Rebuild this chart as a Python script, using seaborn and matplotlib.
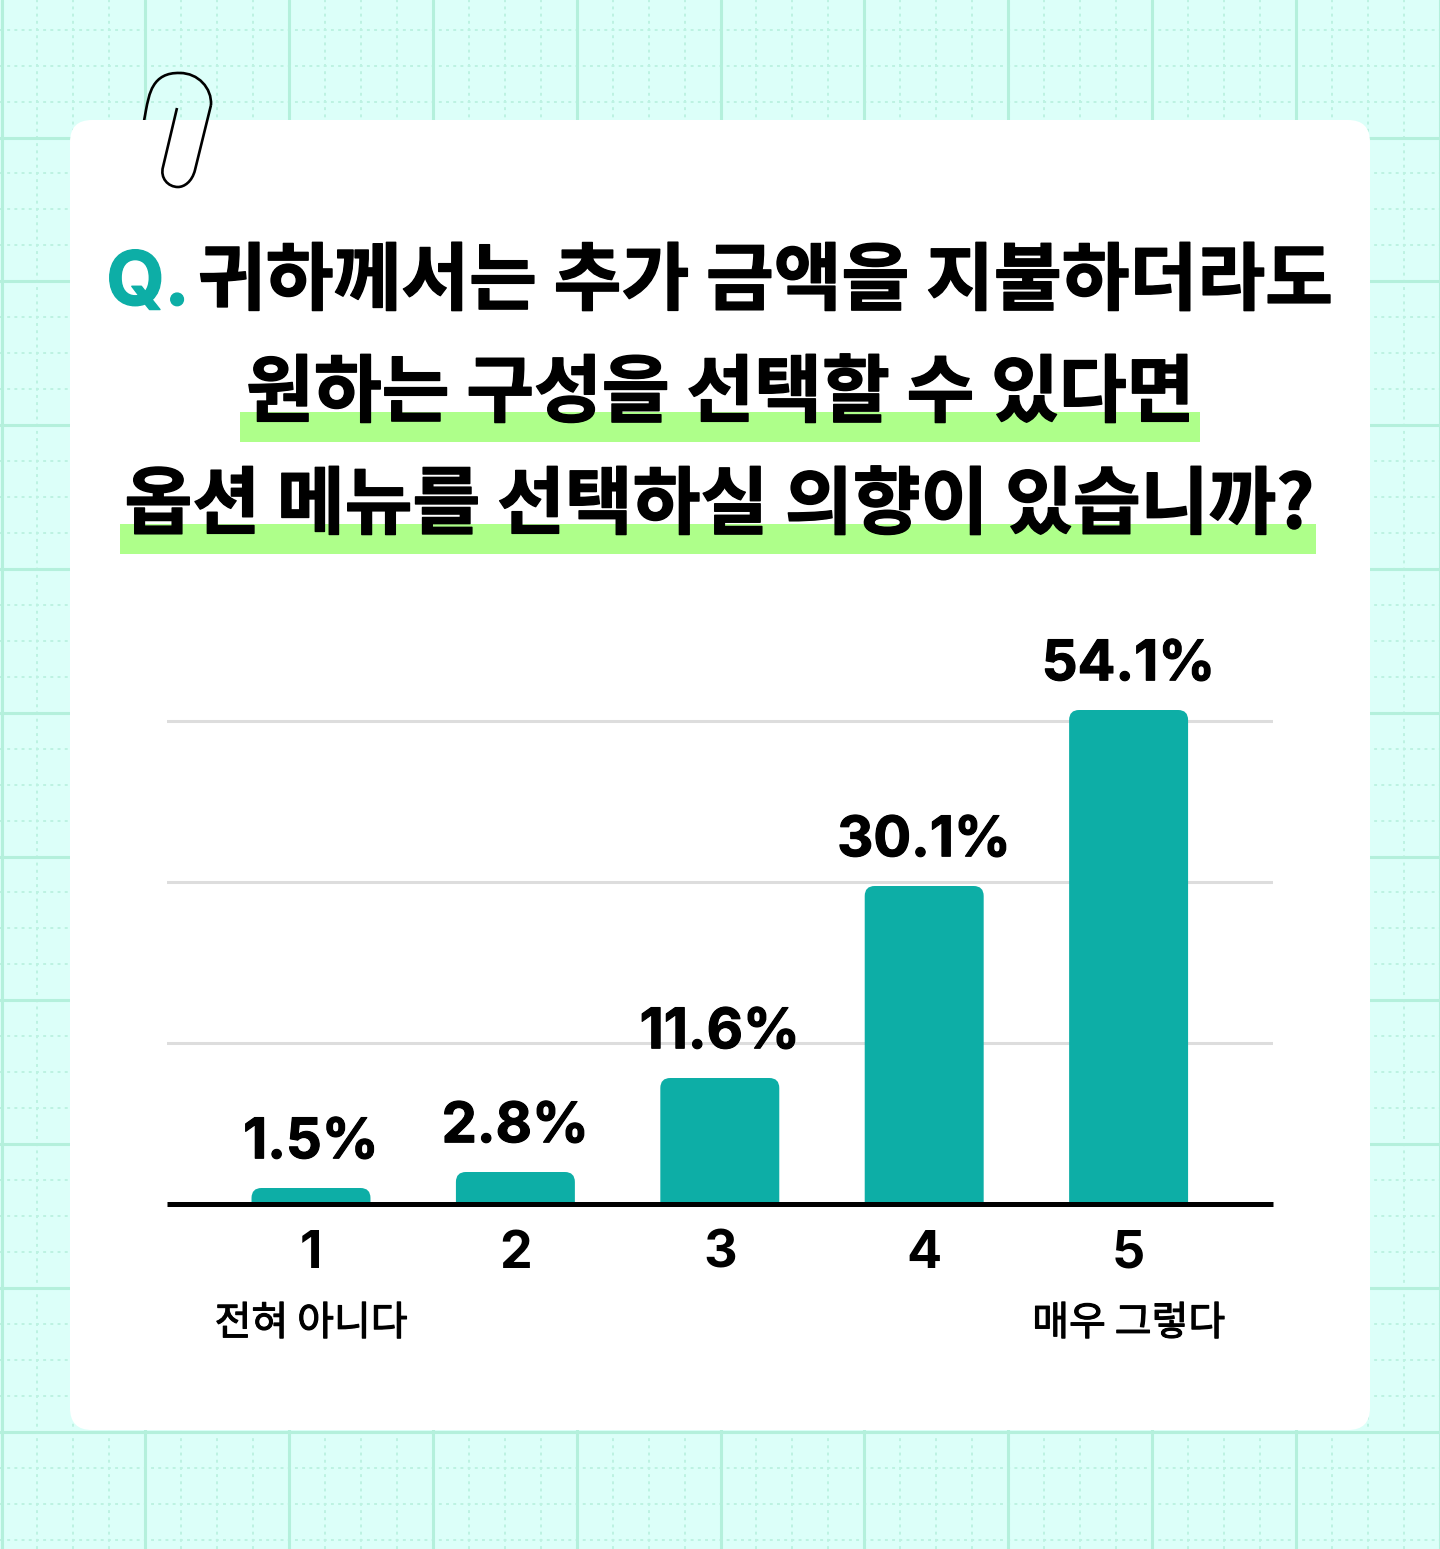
import numpy as np
import pandas as pd
import matplotlib
matplotlib.use("Agg")
import matplotlib.pyplot as plt
import seaborn as sns
import matplotlib.patheffects as pe
from matplotlib.patches import FancyBboxPatch, PathPatch, Rectangle
from matplotlib.path import Path

scale_points = ["1", "2", "3", "4", "5"]
share_labels = ["1.5%", "2.8%", "11.6%", "30.1%", "54.1%"]
drawn_heights = [16, 32, 126, 318, 494]
grid_levels = [161, 322, 483]
end_labels = {"1": "전혀 아니다", "5": "매우 그렇다"}
title_lines = ["귀하께서는 추가 금액을 지불하더라도", "원하는 구성을 선택할 수 있다면", "옵션 메뉴를 선택하실 의향이 있습니까?"]

W, H = 1440, 1549
sns.set_theme(style="white")
KR = ["Noto Sans CJK KR", "DejaVu Sans"]
NUM = ["Inter", "Noto Sans CJK KR"]
TEAL = "#0DAEA6"
px = 0.72  # points per pixel at dpi 100

fig = plt.figure(figsize=(W / 100, H / 100), dpi=100, facecolor="#DCFFF9")
bg = fig.add_axes([0, 0, 1, 1], zorder=0)
bg.set_xlim(0, W); bg.set_ylim(H, 0); bg.axis("off")

# graph paper
minor = 143.8 / 4
for i in range(0, 41):
    pos = 1.5 + i * minor
    if i % 4:
        bg.axvline(pos, color="#BDF2E2", lw=1.4, ls=(0, (1.5, 2.2)), zorder=1)
    else:
        bg.axvline(pos, color="#B4F0DC", lw=2.2, zorder=2)
for i in range(-3, 41):
    pos = 137.5 + i * minor
    if i % 4:
        bg.axhline(pos, color="#BDF2E2", lw=1.4, ls=(0, (1.5, 2.2)), zorder=1)
    else:
        bg.axhline(pos, color="#B4F0DC", lw=2.2, zorder=2)

# paper clip: back part, then card, then front part
clip_back = Path([(144, 121), (146, 110), (149, 95), (152, 72), (180, 73), (198, 73), (212, 88), (211, 105)],
                 [Path.MOVETO, Path.LINETO, Path.CURVE4, Path.CURVE4, Path.CURVE4, Path.CURVE4, Path.CURVE4, Path.CURVE4])
bg.add_patch(PathPatch(clip_back, fc="none", ec="black", lw=1.9, zorder=3, capstyle="butt"))
bg.add_patch(FancyBboxPatch((70 + 22, 120 + 22), 1300 - 44, 1310 - 44, boxstyle="round,pad=22,rounding_size=22",
                            fc="white", ec="none", zorder=4))
clip_front = Path([(211, 105), (195, 170), (192, 182), (184, 187), (178, 187), (168, 187), (160, 178), (163, 167), (177, 108)],
                  [Path.MOVETO, Path.LINETO, Path.CURVE4, Path.CURVE4, Path.CURVE4, Path.CURVE4, Path.CURVE4, Path.CURVE4, Path.LINETO])
bg.add_patch(PathPatch(clip_front, fc="none", ec="black", lw=1.9, zorder=5, capstyle="butt"))

# title
bg.add_patch(Rectangle((240, 412), 960, 30, fc="#AEFF8A", ec="none", zorder=5))
bg.add_patch(Rectangle((120, 524), 1196, 30, fc="#AEFF8A", ec="none", zorder=5))
title_fs = 73.7 * px
heavy = [pe.withStroke(linewidth=1.0, foreground="black")]
bg.text(148, 305, "Q.", color=TEAL, fontsize=75 * px, fontweight="bold", family=NUM, ha="center", va="baseline", zorder=6,
        path_effects=[pe.withStroke(linewidth=1.0, foreground=TEAL)])
bg.text(765, 304, title_lines[0], color="black", fontsize=title_fs, fontweight="bold", family=KR, ha="center", va="baseline", zorder=6, path_effects=heavy)
bg.text(720, 416, title_lines[1], color="black", fontsize=title_fs, fontweight="bold", family=KR, ha="center", va="baseline", zorder=6, path_effects=heavy)
bg.text(719, 528, title_lines[2], color="black", fontsize=title_fs, fontweight="bold", family=KR, ha="center", va="baseline", zorder=6, path_effects=heavy)

# chart
left, right, top, base = 167, 1273, 620, 1206
ax = fig.add_axes([left / W, 1 - base / H, (right - left) / W, (base - top) / H], zorder=1)
ax.patch.set_alpha(0)
df = pd.DataFrame({"point": scale_points, "height": drawn_heights})
sns.barplot(data=df, x="point", y="height", color=TEAL, saturation=1, width=0.582, ax=ax, zorder=3)
spacing = 204.4
for s in ["top", "left", "right"]:
    ax.spines[s].set_visible(False)
ax.spines["bottom"].set_position(("data", 0))  # resets the ticks, so it comes before their styling
ax.spines["bottom"].set(color="black", linewidth=5 * px, capstyle="butt")
ax.spines["bottom"].set_zorder(5)
ax.set_xticks(range(len(scale_points)), labels=scale_points, fontsize=52 * px, fontweight="bold", family=NUM, color="black")
ax.set_xlim((left - 311) / spacing, (right - 311) / spacing)
ax.set_ylim(-2, base - top - 2)
ax.set_xlabel(""); ax.set_ylabel("")
ax.set_yticks(grid_levels)
ax.set_yticklabels([])
ax.grid(axis="y", color="#DDDDDD", lw=2.2, zorder=1)
ax.set_axisbelow(True)
ax.tick_params(axis="y", length=0)
ax.tick_params(axis="x", length=0, pad=18.5)

bars = ax.containers[0]
ax.bar_label(bars, labels=share_labels, padding=13.5, fontsize=56 * px, fontweight="bold",
             family=NUM, color="black", zorder=6, path_effects=[pe.withStroke(linewidth=0.8, foreground="black")])
r = 10
rx, ry = r / spacing, r
for bar in list(bars):
    x0, w, h = bar.get_x(), bar.get_width(), bar.get_height()
    x1 = x0 + w
    verts = [(x0, 0), (x0, h - ry), (x0, h), (x0 + rx, h), (x1 - rx, h), (x1, h), (x1, h - ry), (x1, 0), (x0, 0)]
    codes = [Path.MOVETO, Path.LINETO, Path.CURVE3, Path.CURVE3, Path.LINETO, Path.CURVE3, Path.CURVE3, Path.LINETO, Path.CLOSEPOLY]
    ax.add_patch(PathPatch(Path(verts, codes), fc=TEAL, ec="none", zorder=3))
    bar.set_visible(False)

for i, p in enumerate(scale_points):
    if p in end_labels:
        ax.annotate(end_labels[p], xy=(i, 0), xytext=(0, -131 * px), textcoords="offset points",
                    ha="center", va="baseline", fontsize=40 * px, family=KR, color="black",
                    annotation_clip=False, path_effects=[pe.withStroke(linewidth=0.8, foreground="black")])

fig.savefig("out.png", dpi=100, facecolor=fig.get_facecolor())
